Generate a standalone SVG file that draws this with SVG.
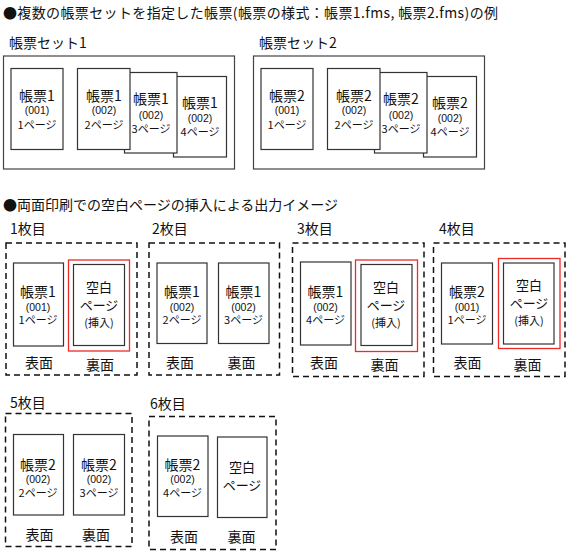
<svg xmlns="http://www.w3.org/2000/svg" width="568" height="553" viewBox="0 0 568 553">
<style>
text{font-family:"Noto Sans CJK JP","Noto Sans",sans-serif;fill:#111;}
.h{font-size:14px;}
.t{font-size:14px;text-anchor:middle;}
.b{font-size:13px;text-anchor:middle;}
.s{font-size:10.5px;font-family:"Liberation Sans","Noto Sans CJK JP",sans-serif;}
.p{font-size:11px;}
.set{fill:#fff;stroke:#444;stroke-width:1.2;}
.pg{fill:#fff;stroke:#333;stroke-width:1.2;}
.sh{fill:none;stroke:#111;stroke-width:1.5;stroke-dasharray:6 4;}
.red{fill:none;stroke:#ee2a2a;stroke-width:1.3;}
</style>
<rect width="568" height="553" fill="#fff"/>
<text class="h" x="3" y="18" textLength="495" lengthAdjust="spacing">●複数の帳票セットを指定した帳票(帳票の様式：帳票1.fms, 帳票2.fms)の例</text>

<g id="set1">
<text class="h" x="9" y="48">帳票セット1</text>
<rect class="set" x="3.5" y="56" width="231" height="113"/>
<g id="set1-p1"><rect class="pg" x="11" y="68.5" width="52" height="81"/>
<text class="t" x="37" y="101">帳票1<tspan class="s" x="37" y="114">(001)</tspan><tspan class="p" x="37" y="129">1ページ</tspan></text></g>
<g id="set1-p4"><rect class="pg" x="173.5" y="76.5" width="53" height="80.5"/>
<text class="t" x="200" y="108">帳票1<tspan class="s" x="200" y="122">(002)</tspan><tspan class="p" x="200" y="136">4ページ</tspan></text></g>
<g id="set1-p3"><rect class="pg" x="124.5" y="72.5" width="52.5" height="80.5"/>
<text class="t" x="151" y="104">帳票1<tspan class="s" x="151" y="118.5">(002)</tspan><tspan class="p" x="151" y="132.5">3ページ</tspan></text></g>
<g id="set1-p2"><rect class="pg" x="77.5" y="68.5" width="52.5" height="81"/>
<text class="t" x="104" y="101">帳票1<tspan class="s" x="104" y="114">(002)</tspan><tspan class="p" x="104" y="129">2ページ</tspan></text></g>
</g>

<g id="set2">
<text class="h" x="259" y="48">帳票セット2</text>
<rect class="set" x="253.5" y="56" width="231" height="113"/>
<g id="set2-p1"><rect class="pg" x="261" y="68.5" width="52" height="81"/>
<text class="t" x="287" y="101">帳票2<tspan class="s" x="287" y="114">(001)</tspan><tspan class="p" x="287" y="129">1ページ</tspan></text></g>
<g id="set2-p4"><rect class="pg" x="423.5" y="76.5" width="53" height="80.5"/>
<text class="t" x="450" y="108">帳票2<tspan class="s" x="450" y="122">(002)</tspan><tspan class="p" x="450" y="136">4ページ</tspan></text></g>
<g id="set2-p3"><rect class="pg" x="374.5" y="72.5" width="52.5" height="80.5"/>
<text class="t" x="401" y="104">帳票2<tspan class="s" x="401" y="118.5">(002)</tspan><tspan class="p" x="401" y="132.5">3ページ</tspan></text></g>
<g id="set2-p2"><rect class="pg" x="327.5" y="68.5" width="52.5" height="81"/>
<text class="t" x="354" y="101">帳票2<tspan class="s" x="354" y="114">(002)</tspan><tspan class="p" x="354" y="129">2ページ</tspan></text></g>
</g>

<text class="h" x="3" y="210">●両面印刷での空白ページの挿入による出力イメージ</text>

<g id="sheet1">
<text class="h" x="10" y="234">1枚目</text>
<rect class="sh" x="6" y="243" width="131" height="132"/>
<g id="sheet1-front"><rect class="pg" x="13.5" y="263" width="50" height="83"/>
<text class="t" x="38" y="297">帳票1<tspan class="s" x="38" y="310.5">(001)</tspan><tspan class="p" x="38" y="324">1ページ</tspan></text></g>
<g id="sheet1-back"><rect class="red" x="68.5" y="260" width="61" height="91"/>
<rect class="pg" x="73.5" y="264.5" width="51" height="81"/>
<text class="b" x="99" y="292">空白<tspan x="99" y="310">ページ</tspan><tspan class="p" x="99" y="327">(挿入)</tspan></text></g>
<text class="t" x="39" y="368">表面</text><text class="t" x="100" y="370">裏面</text>
</g>

<g id="sheet2">
<text class="h" x="152" y="234">2枚目</text>
<rect class="sh" x="149" y="243" width="130.5" height="132"/>
<g id="sheet2-front"><rect class="pg" x="157" y="263" width="50" height="80.5"/>
<text class="t" x="182" y="297">帳票1<tspan class="s" x="182" y="310.5">(002)</tspan><tspan class="p" x="182" y="324">2ページ</tspan></text></g>
<g id="sheet2-back"><rect class="pg" x="218.5" y="263" width="50.5" height="80.5"/>
<text class="t" x="243.5" y="297">帳票1<tspan class="s" x="243.5" y="310.5">(002)</tspan><tspan class="p" x="243.5" y="324">3ページ</tspan></text></g>
<text class="t" x="180" y="368">表面</text><text class="t" x="241.5" y="368">裏面</text>
</g>

<g id="sheet3">
<text class="h" x="297" y="234">3枚目</text>
<rect class="sh" x="292.5" y="243" width="131.5" height="133.5"/>
<g id="sheet3-front"><rect class="pg" x="300.5" y="262" width="50.5" height="83"/>
<text class="t" x="325.5" y="297">帳票1<tspan class="s" x="325.5" y="310.5">(002)</tspan><tspan class="p" x="325.5" y="324">4ページ</tspan></text></g>
<g id="sheet3-back"><rect class="red" x="355.5" y="260" width="62" height="91.5"/>
<rect class="pg" x="361" y="264.5" width="51" height="81"/>
<text class="b" x="386" y="292">空白<tspan x="386" y="310">ページ</tspan><tspan class="p" x="386" y="327">(挿入)</tspan></text></g>
<text class="t" x="324" y="368">表面</text><text class="t" x="384.5" y="370">裏面</text>
</g>

<g id="sheet4">
<text class="h" x="439" y="234">4枚目</text>
<rect class="sh" x="433.5" y="243" width="131.5" height="133.5"/>
<g id="sheet4-front"><rect class="pg" x="441.5" y="263" width="51" height="81"/>
<text class="t" x="467" y="297">帳票2<tspan class="s" x="467" y="310.5">(001)</tspan><tspan class="p" x="467" y="324">1ページ</tspan></text></g>
<g id="sheet4-back"><rect class="red" x="498.5" y="258.5" width="61.5" height="90"/>
<rect class="pg" x="503.5" y="263" width="50.5" height="81"/>
<text class="b" x="529" y="290">空白<tspan x="529" y="308">ページ</tspan><tspan class="p" x="529" y="325">(挿入)</tspan></text></g>
<text class="t" x="467.5" y="368">表面</text><text class="t" x="527.5" y="370">裏面</text>
</g>

<g id="sheet5">
<text class="h" x="10" y="408">5枚目</text>
<rect class="sh" x="5.5" y="413.5" width="126.5" height="133"/>
<g id="sheet5-front"><rect class="pg" x="13.5" y="434.5" width="50" height="80.5"/>
<text class="t" x="38" y="470">帳票2<tspan class="s" x="38" y="483">(002)</tspan><tspan class="p" x="38" y="496.5">2ページ</tspan></text></g>
<g id="sheet5-back"><rect class="pg" x="73.5" y="434.5" width="51" height="80.5"/>
<text class="t" x="99" y="470">帳票2<tspan class="s" x="99" y="483">(002)</tspan><tspan class="p" x="99" y="496.5">3ページ</tspan></text></g>
<text class="t" x="39.5" y="540">表面</text><text class="t" x="96" y="540">裏面</text>
</g>

<g id="sheet6">
<text class="h" x="150" y="409">6枚目</text>
<rect class="sh" x="149" y="416.5" width="127" height="133"/>
<g id="sheet6-front"><rect class="pg" x="157.5" y="436" width="50.5" height="80.5"/>
<text class="t" x="182.5" y="470">帳票2<tspan class="s" x="182.5" y="483">(002)</tspan><tspan class="p" x="182.5" y="496.5">4ページ</tspan></text></g>
<g id="sheet6-back"><rect class="pg" x="217.5" y="437" width="49.5" height="80.5"/>
<text class="b" x="242" y="472">空白<tspan x="242" y="490">ページ</tspan></text></g>
<text class="t" x="184" y="542">表面</text><text class="t" x="241.5" y="542">裏面</text>
</g>

<g id="connectors"></g>
</svg>
